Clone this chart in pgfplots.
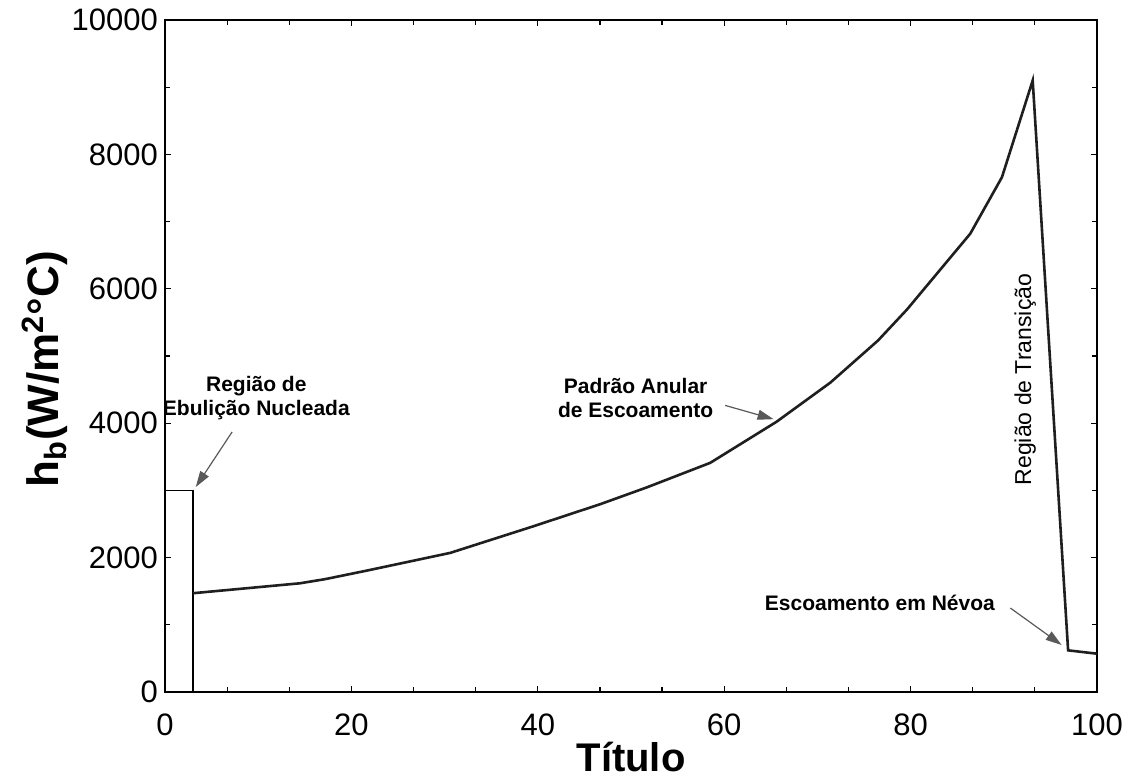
\documentclass[border=0pt]{standalone}
\usepackage{fontspec}
\setmainfont{Liberation Sans}
\usepackage{pgfplots}
\pgfplotsset{compat=1.18}
\usetikzlibrary{arrows.meta}
\begin{document}
\begin{tikzpicture}
\begin{axis}[
  width=466pt, height=336pt, scale only axis,
  xmin=0, xmax=100, ymin=0, ymax=10000,
  xtick={0,20,...,100}, ytick={0,2000,...,10000},
  minor x tick num=2, minor y tick num=1,
  tick align=inside,
  major tick length=3pt, minor tick length=2.5pt,
  axis line style={line width=0.9pt},
  every tick/.style={black, line width=0.6pt},
  tick label style={font=\fontsize{15.5}{18}\selectfont},
  xticklabel style={yshift=-7.5pt},
  /pgf/number format/assume math mode=true,
  /pgf/number format/1000 sep={},
  scaled y ticks=false,
  xlabel={Título},
  ylabel={h\textsubscript{b}(W/m\textsuperscript{2}°C)},
  xlabel style={font=\fontsize{20}{24}\selectfont\bfseries, at={(axis description cs:0.5,0)}, anchor=center, yshift=-32.5pt, inner sep=1pt},
  ylabel style={font=\fontsize{22}{26}\selectfont\bfseries, at={([xshift=-60pt]axis description cs:0,0.48)}, anchor=center},
  clip=false,
]
\addplot[black, line width=0.9pt] coordinates {(0,3000) (3,3000) (3,0)};
\addplot[black!88, line width=1.3pt] coordinates {
(3,1470) (14.5,1618) (17.2,1680) (21.6,1805) (30.6,2070) (39.5,2465)
(46.7,2795) (51.7,3045) (58.5,3410) (65.6,4020) (71.4,4605) (76.5,5230)
(79.6,5690) (86.4,6820) (89.8,7660) (93.1,9100) (96.9,620) (100,570)};
\coordinate (SW) at (rel axis cs:0,0);
\coordinate (NE) at (rel axis cs:1,1);
\node[font=\fontsize{10.5}{12}\selectfont\bfseries, align=center] at (axis cs:9.8,4375) {Região de\\Ebulição Nucleada};
\node[font=\fontsize{10.5}{12}\selectfont\bfseries, align=center] at (axis cs:50.5,4380) {Padrão Anular\\de Escoamento};
\node[font=\fontsize{10.5}{12}\selectfont\bfseries, anchor=east] at (axis cs:89.8,1330) {Escoamento em Névoa};
\node[font=\fontsize{11.5}{14}\selectfont, rotate=90] at (axis cs:92.3,4650) {Região de Transição};
\draw[black!65, line width=0.6pt, -{Triangle[length=8pt,width=5pt]}] (axis cs:7.2,3870) -- (axis cs:3.3,3050);
\draw[black!65, line width=0.6pt, -{Triangle[length=8pt,width=5pt]}] (axis cs:60.1,4265) -- (axis cs:65.3,4060);
\draw[black!65, line width=0.6pt, -{Triangle[length=8pt,width=5pt]}] (axis cs:90.7,1250) -- (axis cs:96.2,700);
\end{axis}
\pgfresetboundingbox
\path ([shift={(-82.5pt,-45.5pt)}]SW) rectangle ([shift={(19.5pt,10pt)}]NE);
\end{tikzpicture}
\end{document}
